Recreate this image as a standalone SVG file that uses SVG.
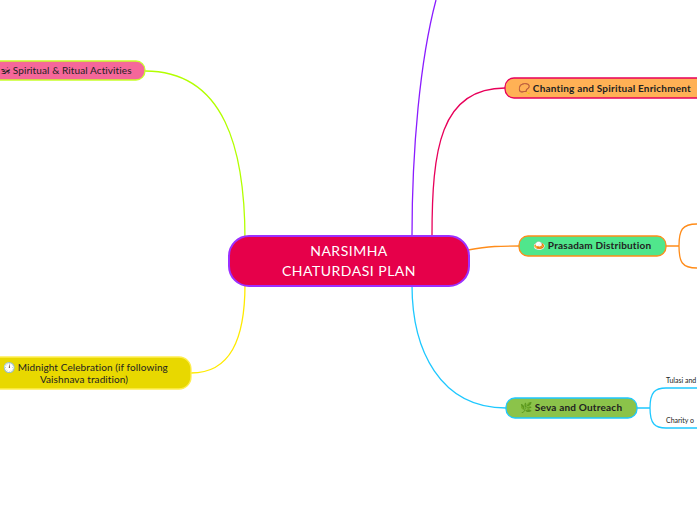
<svg xmlns="http://www.w3.org/2000/svg" width="697" height="520" viewBox="0 0 697 520">
<style>
text{font-family:"Lato","Liberation Sans",sans-serif;fill:#222}
.b{font-weight:bold;font-size:10px;letter-spacing:0.2px}
.n{font-size:10px;letter-spacing:0.1px}
.c{fill:none;stroke-width:1.3}
</style>
<rect width="697" height="520" fill="#fff"/>
<g id="connectors">
<path class="c" stroke="#b3ff00" d="M145,71 C225,71 245,150 245,240"/>
<path class="c" stroke="#ffea00" d="M245,284 C245,340 230,373 191,373"/>
<path class="c" stroke="#8a1cff" d="M412,236 C412,150 420,60 436,0"/>
<path class="c" stroke="#e8005a" d="M432,236 C432,150 440,88 505,88"/>
<path class="c" stroke="#ff8c1a" d="M468,250 C490,246 500,246 519,246"/>
<path class="c" stroke="#1ec8ff" d="M412,285 C412,350 440,408 506,408"/>
<path class="c" stroke="#ff8c1a" d="M666,246 L679,246 M679,246 C679,230 682,224 697,224 M679,246 C679,262 682,268 697,268"/>
<path class="c" stroke="#1ec8ff" d="M637,408 L650,408 M650,408 C650,392 655,388 666,388 L697,388 M650,408 C650,424 655,428 666,428 L697,428"/>
</g>
<g id="center">
<rect x="229" y="236" width="240" height="50" rx="20" fill="#e6004a" stroke="#9b30ff" stroke-width="2"/>
<text x="349" y="256" text-anchor="middle" font-size="14" letter-spacing="0.5" style="fill:#fff">NARSIMHA</text>
<text x="349" y="276" text-anchor="middle" font-size="14" letter-spacing="0.5" style="fill:#fff">CHATURDASI PLAN</text>
</g>
<g id="spiritual">
<rect x="-12" y="61" width="157" height="19" rx="9" fill="#f5679a" stroke="#c8ff2a" stroke-width="1.3"/>
<text class="n" x="1" y="74">🕉 Spiritual &amp; Ritual Activities</text>
</g>
<g id="chanting">
<rect x="505" y="78" width="205" height="20" rx="9" fill="#ffb155" stroke="#e8005a" stroke-width="1.3"/>
<text class="b" x="518" y="92">&#x1F4FF; Chanting and Spiritual Enrichment</text>
</g>
<g id="prasadam">
<rect x="519" y="236" width="147" height="20" rx="9" fill="#50e68c" stroke="#ff8c1a" stroke-width="1.3"/>
<text class="b" x="533" y="249">🍛 Prasadam Distribution</text>
</g>
<g id="seva">
<rect x="506" y="398" width="131" height="20" rx="9" fill="#8bc34a" stroke="#1ec8ff" stroke-width="1.3"/>
<text class="b" x="520" y="411">🌿 Seva and Outreach</text>
</g>
<g id="midnight">
<rect x="-12" y="357" width="203" height="32" rx="12" fill="#e8d800" stroke="#ffee50" stroke-width="1.3"/>
<text class="n" x="3" y="371">🕛 Midnight Celebration (if following</text>
<text class="n" x="84" y="383" text-anchor="middle">Vaishnava tradition)</text>
</g>
<g id="seva-children">
<text x="666" y="383" font-size="7">Tulasi and</text>
<text x="666" y="423" font-size="7">Charity o</text>
</g>
</svg>
